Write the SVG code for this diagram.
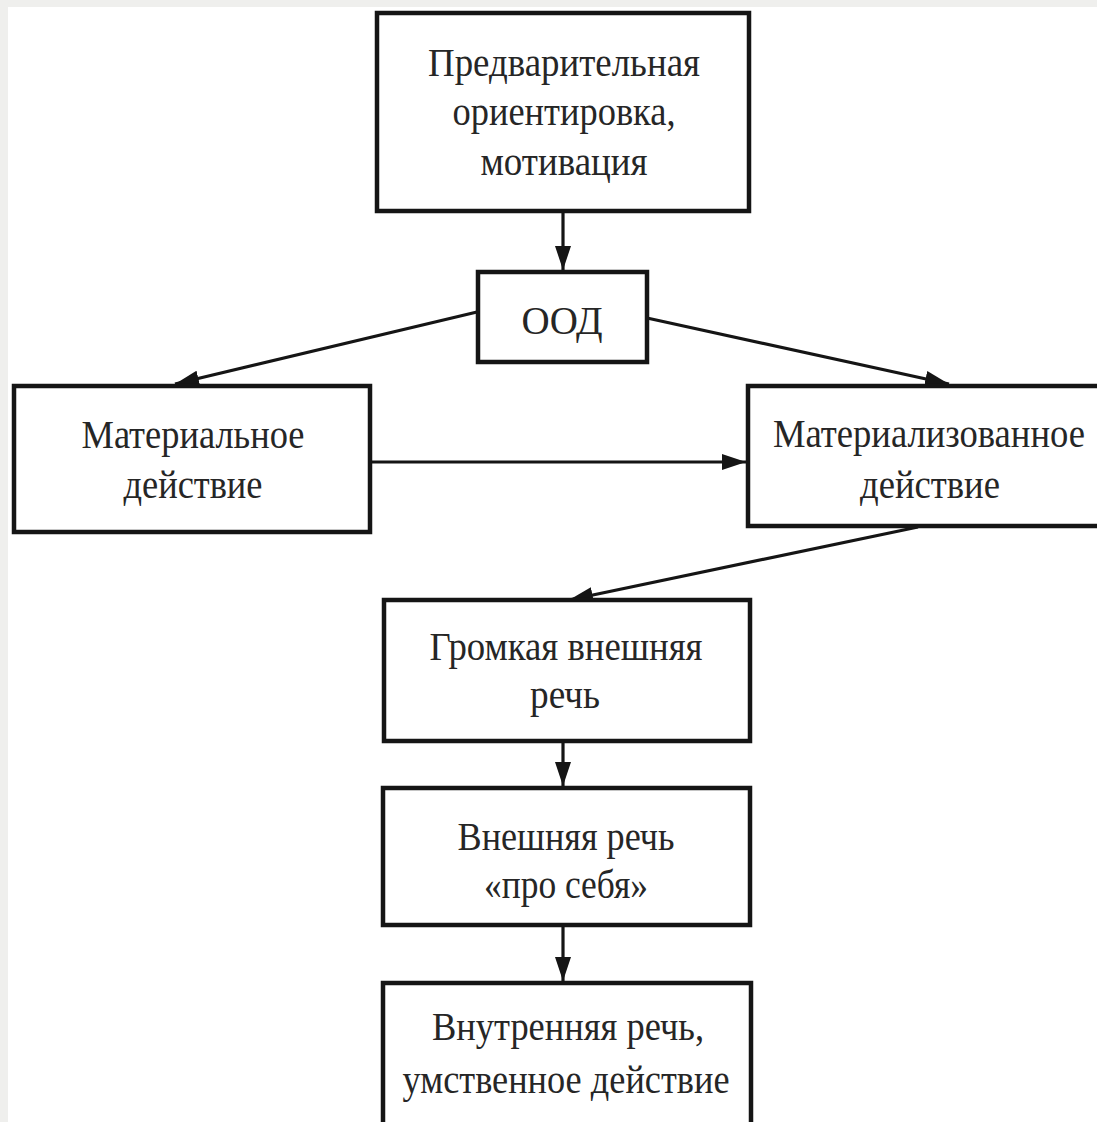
<svg xmlns="http://www.w3.org/2000/svg" width="1097" height="1122" viewBox="0 0 1097 1122">
  <defs>
    <style>
      .box { fill: #ffffff; stroke: #151515; stroke-width: 4.5; }
      .lbl { font-family: "Liberation Serif", "DejaVu Serif", serif; font-size: 40px; fill: #262626; text-anchor: middle; }
      .con { stroke: #151515; stroke-width: 3.2; fill: none; }
    </style>
    <marker id="ah" markerUnits="userSpaceOnUse" markerWidth="26" markerHeight="18" refX="24" refY="8" orient="auto">
      <path d="M0,0 L24,8 L0,16 Z" fill="#151515"/>
    </marker>
  </defs>
  <rect x="0" y="0" width="1097" height="1122" fill="#efefed"/>
  <rect x="8" y="7" width="1089" height="1115" fill="#ffffff"/>

  <g id="connectors">
    <line class="con" x1="563" y1="212" x2="563" y2="270" marker-end="url(#ah)"/>
    <line class="con" x1="477" y1="312" x2="175" y2="384" marker-end="url(#ah)"/>
    <line class="con" x1="647" y1="318" x2="949" y2="384" marker-end="url(#ah)"/>
    <line class="con" x1="370" y1="462" x2="746" y2="462" marker-end="url(#ah)"/>
    <line class="con" x1="918" y1="527" x2="569" y2="600" marker-end="url(#ah)"/>
    <line class="con" x1="563" y1="741" x2="563" y2="786" marker-end="url(#ah)"/>
    <line class="con" x1="563" y1="925" x2="563" y2="981" marker-end="url(#ah)"/>
  </g>

  <g id="node-orient">
    <rect class="box" x="377" y="13" width="372" height="198"/>
    <text class="lbl" x="564" y="76" textLength="272" lengthAdjust="spacingAndGlyphs">Предварительная</text>
    <text class="lbl" x="564" y="125" textLength="223" lengthAdjust="spacingAndGlyphs">ориентировка,</text>
    <text class="lbl" x="564" y="175" textLength="167" lengthAdjust="spacingAndGlyphs">мотивация</text>
  </g>

  <g id="node-ood">
    <rect class="box" x="478" y="272" width="169" height="90"/>
    <text class="lbl" x="562" y="334" textLength="81" lengthAdjust="spacingAndGlyphs">ООД</text>
  </g>

  <g id="node-material">
    <rect class="box" x="14" y="386" width="356" height="146"/>
    <text class="lbl" x="193" y="448" textLength="223" lengthAdjust="spacingAndGlyphs">Материальное</text>
    <text class="lbl" x="193" y="498" textLength="139" lengthAdjust="spacingAndGlyphs">действие</text>
  </g>

  <g id="node-materialized">
    <rect class="box" x="748" y="386" width="360" height="140"/>
    <text class="lbl" x="929" y="447" textLength="312" lengthAdjust="spacingAndGlyphs">Материализованное</text>
    <text class="lbl" x="930" y="498" textLength="140" lengthAdjust="spacingAndGlyphs">действие</text>
  </g>

  <g id="node-loud">
    <rect class="box" x="384" y="600" width="366" height="141"/>
    <text class="lbl" x="566" y="660" textLength="273" lengthAdjust="spacingAndGlyphs">Громкая внешняя</text>
    <text class="lbl" x="565" y="708" textLength="70" lengthAdjust="spacingAndGlyphs">речь</text>
  </g>

  <g id="node-outer">
    <rect class="box" x="383" y="788" width="367" height="137"/>
    <text class="lbl" x="566" y="850" textLength="217" lengthAdjust="spacingAndGlyphs">Внешняя речь</text>
    <text class="lbl" x="566" y="898" textLength="164" lengthAdjust="spacingAndGlyphs">«про себя»</text>
  </g>

  <g id="node-inner">
    <rect class="box" x="383" y="983" width="368" height="200"/>
    <text class="lbl" x="568" y="1040" textLength="272" lengthAdjust="spacingAndGlyphs">Внутренняя речь,</text>
    <text class="lbl" x="566" y="1093" textLength="327" lengthAdjust="spacingAndGlyphs">умственное действие</text>
  </g>
</svg>
